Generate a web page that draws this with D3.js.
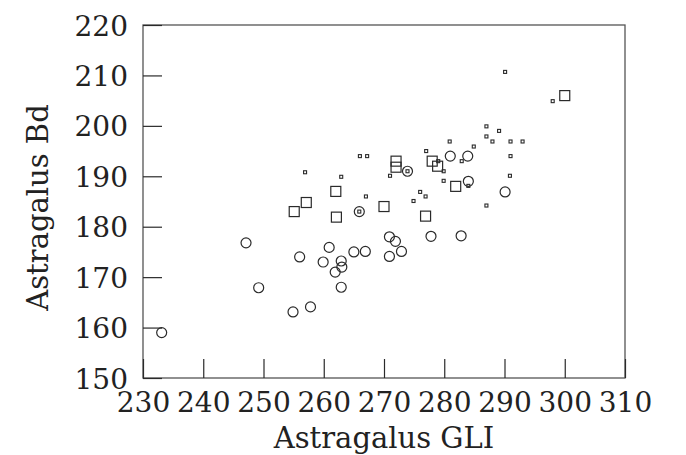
<!DOCTYPE html>
<html>
<head>
<meta charset="utf-8">
<script src="https://cdn.jsdelivr.net/npm/d3@7"></script>
<style>
  html, body { margin: 0; padding: 0; background: #fff; }
  svg { display: block; }
</style>
</head>
<body>
<svg id="chart" width="686" height="455"></svg>
<script>
// Axis ticks
const xTicks = [230, 240, 250, 260, 270, 280, 290, 300, 310];
const yTicks = [150, 160, 170, 180, 190, 200, 210, 220];

// Series 1: large circles [GLI, Bd]
const circleGLI = [233.1, 247.1, 249.2, 254.9, 256.0, 257.8, 259.9, 260.9, 261.9, 262.9, 263.0, 262.9,
                   265.0, 266.9, 270.9, 271.9, 272.9, 270.9, 277.8, 282.8, 281.0, 283.9, 284.0, 290.1,
                   265.9, 273.9];
const circleBd  = [159.0, 176.8, 167.9, 163.1, 174.0, 164.1, 173.0, 175.9, 171.0, 173.2, 172.0, 168.0,
                   175.0, 175.1, 178.0, 177.1, 175.1, 174.1, 178.1, 178.2, 194.0, 194.0, 189.0, 186.9,
                   183.0, 191.0];

// Series 2: large squares
const squareGLI = [255.1, 257.1, 262.0, 262.1, 270.0, 272.0, 272.0, 278.0, 278.9, 281.9, 276.9, 300.0];
const squareBd  = [183.0, 184.8, 187.0, 181.9, 184.0, 193.0, 191.8, 193.0, 192.0, 188.0, 182.1, 206.0];

// Series 3: small squares
const smallGLI = [290.1, 298.0, 287.0, 289.1, 287.0, 288.0, 291.0, 293.0, 284.9, 291.0, 290.9, 287.0,
                  280.9, 277.0, 279.0, 282.9, 279.9, 279.9, 284.0, 276.0, 276.9, 274.9, 266.0, 267.2,
                  256.9, 262.9, 267.0, 271.0, 273.9, 265.9];
const smallBd  = [210.7, 204.9, 199.9, 199.0, 197.9, 196.9, 196.9, 196.9, 195.9, 194.0, 190.1, 184.2,
                  196.9, 195.0, 193.0, 193.0, 191.0, 189.1, 188.1, 186.9, 186.0, 185.1, 194.0, 194.0,
                  190.8, 189.9, 186.0, 190.1, 191.0, 183.0];

const xTitle = "Astragalus GLI";
const yTitle = "Astragalus Bd";

const svg = d3.select("#chart");
const mLeft = 143, mRight = 625, mTop = 25, mBottom = 378;
const font = "'DejaVu Serif', serif";
const ink = "#2a2a2a";

const x = d3.scaleLinear().domain([230, 310]).range([mLeft, mRight]);
const y = d3.scaleLinear().domain([150, 220]).range([mBottom, mTop]);

// frame
svg.append("rect")
  .attr("x", mLeft).attr("y", mTop)
  .attr("width", mRight - mLeft).attr("height", mBottom - mTop)
  .attr("fill", "none").attr("stroke", "#555").attr("stroke-width", 1.3);

// y axis (ticks pointing inward)
const gy = svg.append("g").attr("transform", `translate(${mLeft},0)`)
  .call(d3.axisLeft(y).tickValues(yTicks).tickSize(-19).tickSizeOuter(0).tickFormat(d3.format("d")));
gy.select(".domain").remove();
gy.selectAll(".tick line").attr("stroke", ink).attr("stroke-width", 1.2);
gy.selectAll(".tick text").attr("font-family", font).attr("font-size", 28).attr("fill", "#222")
  .attr("text-anchor", "end").attr("x", -15).attr("dy", "0.36em");

// x axis (ticks pointing inward)
const gx = svg.append("g").attr("transform", `translate(0,${mBottom})`)
  .call(d3.axisBottom(x).tickValues(xTicks).tickSize(-19).tickSizeOuter(0).tickFormat(d3.format("d")));
gx.select(".domain").remove();
gx.selectAll(".tick line").attr("stroke", ink).attr("stroke-width", 1.2);
gx.selectAll(".tick text").attr("font-family", font).attr("font-size", 28).attr("fill", "#222")
  .attr("dy", null).attr("y", 34);

// titles
svg.append("text").attr("x", (mLeft + mRight) / 2).attr("y", 448)
  .attr("text-anchor", "middle").attr("font-family", font).attr("font-size", 29).attr("fill", "#222")
  .text(xTitle);
svg.append("text").attr("transform", `translate(48,${(mTop + mBottom) / 2 + 6}) rotate(-90)`)
  .attr("text-anchor", "middle").attr("font-family", font).attr("font-size", 29).attr("fill", "#222")
  .text(yTitle);

// points
const circles = circleGLI.map((v, i) => ({ gx: v, bd: circleBd[i] }));
const squares = squareGLI.map((v, i) => ({ gx: v, bd: squareBd[i] }));
const smalls = smallGLI.map((v, i) => ({ gx: v, bd: smallBd[i] }));

const bigSide = 10, smallSide = 3;
svg.append("g").selectAll("circle").data(circles).join("circle")
  .attr("cx", d => x(d.gx)).attr("cy", d => y(d.bd)).attr("r", 5)
  .attr("fill", "none").attr("stroke", ink).attr("stroke-width", 1.2);
svg.append("g").selectAll("rect").data(squares).join("rect")
  .attr("x", d => x(d.gx) - bigSide / 2).attr("y", d => y(d.bd) - bigSide / 2)
  .attr("width", bigSide).attr("height", bigSide)
  .attr("fill", "none").attr("stroke", ink).attr("stroke-width", 1.2);
svg.append("g").selectAll("rect").data(smalls).join("rect")
  .attr("x", d => x(d.gx) - smallSide / 2).attr("y", d => y(d.bd) - smallSide / 2)
  .attr("width", smallSide).attr("height", smallSide)
  .attr("fill", "none").attr("stroke", ink).attr("stroke-width", 1.1);
</script>
</body>
</html>
